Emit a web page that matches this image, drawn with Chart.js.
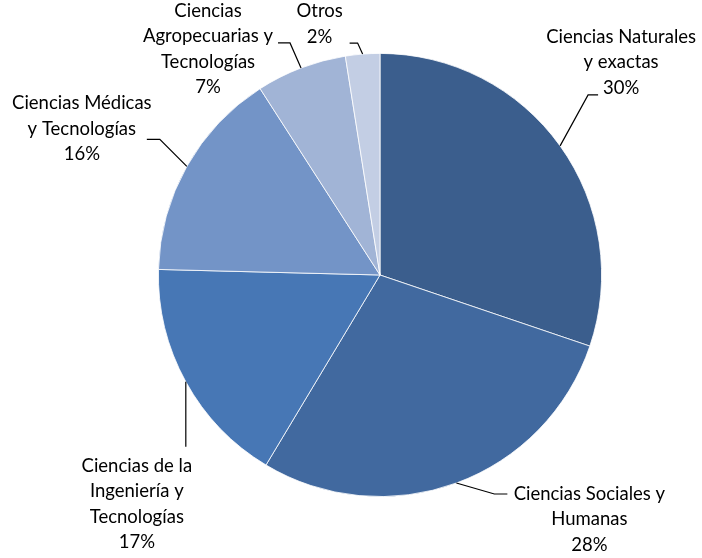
<!DOCTYPE html>
<html>
<head>
<meta charset="utf-8">
<script src="https://cdn.jsdelivr.net/npm/chart.js@4"></script>
<style>
  html, body { margin: 0; padding: 0; background: #fff; }
  #wrap { width: 702px; height: 558px; }
</style>
</head>
<body>
<div id="wrap"><canvas id="pieChart" width="702" height="558"></canvas></div>
<script>
// data
const categories = [
    ['Ciencias Naturales', 'y exactas'],
    ['Ciencias Sociales y', 'Humanas'],
    ['Ciencias de la', 'Ingeniería y', 'Tecnologías'],
    ['Ciencias Médicas', 'y Tecnologías'],
    ['Ciencias', 'Agropecuarias y', 'Tecnologías'],
    ['Otros']
];
const shares = [30.2, 28.4, 16.8, 15.5, 6.6, 2.5];
const percentLabels = ['30%', '28%', '17%', '16%', '7%', '2%'];
const colors = ['#3b5e8d', '#41699f', '#4777b5', '#7394c7', '#a1b4d6', '#c3cee4'];

// leader line + label placement, offsets from the slice's outer mid point
const labelLayout = [
    { elbow: [28, -51], end: [38, -51], text: [61, -109] },
    { elbow: [38, 11], end: [51, 11], text: [133, 11] },
    { elbow: [0, 65], end: [0, 65], text: [-49, 84] },
    { elbow: [-27, -27], end: [-40, -27], text: [-105, -63] },
    { elbow: [-11, -25], end: [-23, -25], text: [-93, -57] },
    { elbow: [-5, -11], end: [-13, -11], text: [-43, -43] }
];

const FONT = '18.5px Lato, "Open Sans", sans-serif';
const LINE_H = 25.5;

const leaderLabels = {
    id: 'leaderLabels',
    afterDatasetsDraw(chart) {
        const ctx = chart.ctx;
        const arcs = chart.getDatasetMeta(0).data;
        ctx.save();
        ctx.font = FONT;
        ctx.fillStyle = '#000';
        ctx.strokeStyle = '#000';
        ctx.lineWidth = 1.2;
        ctx.textAlign = 'center';
        ctx.textBaseline = 'middle';
        arcs.forEach((arc, i) => {
            const mid = (arc.startAngle + arc.endAngle) / 2;
            const px = arc.x + Math.cos(mid) * arc.outerRadius;
            const py = arc.y + Math.sin(mid) * arc.outerRadius;
            const lay = labelLayout[i];
            ctx.beginPath();
            ctx.moveTo(px, py);
            ctx.lineTo(px + lay.elbow[0], py + lay.elbow[1]);
            ctx.lineTo(px + lay.end[0], py + lay.end[1]);
            ctx.stroke();
            const lines = categories[i].concat([percentLabels[i]]);
            const tx = px + lay.text[0];
            let ty = py + lay.text[1];
            lines.forEach(line => {
                ctx.fillText(line, tx, ty);
                ty += LINE_H;
            });
        });
        ctx.restore();
    }
};

const ctx = document.getElementById('pieChart').getContext('2d');
new Chart(ctx, {
    type: 'pie',
    data: {
        labels: categories.map(c => c.join(' ')),
        datasets: [{
            data: shares,
            backgroundColor: colors,
            borderColor: '#ffffff',
            borderWidth: 0.8
        }]
    },
    options: {
        responsive: false,
        animation: false,
        layout: {
            padding: { left: 158, right: 100, top: 53, bottom: 61 }
        },
        plugins: {
            legend: { display: false },
            tooltip: { enabled: false }
        }
    },
    plugins: [leaderLabels]
});
</script>
</body>
</html>
